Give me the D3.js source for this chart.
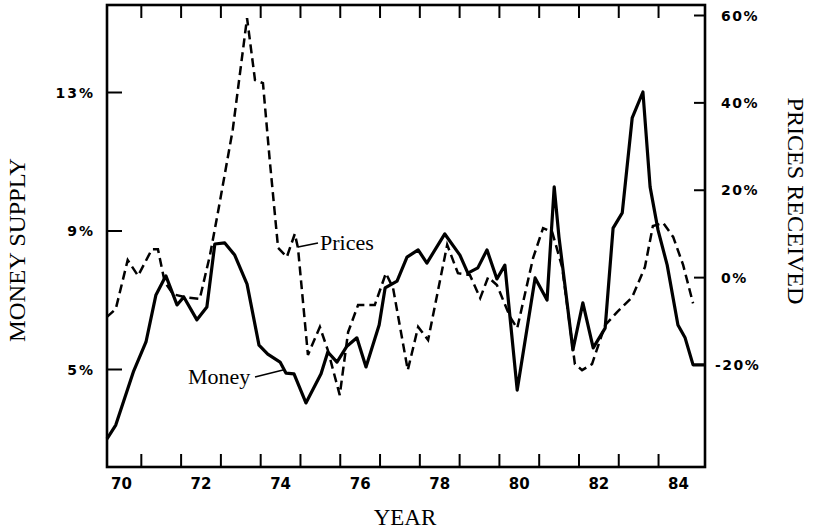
<!DOCTYPE html>
<html>
<head>
<meta charset="utf-8">
<script src="https://cdn.jsdelivr.net/npm/d3@7"></script>
<style>
  html, body { margin: 0; padding: 0; background: #fff; }
  svg { display: block; }
  .tick text { fill: #000; }
</style>
</head>
<body>
<svg id="chart" width="813" height="532"></svg>
<script>
// ---- Data ----
const moneyDates = [1970.15, 1970.37, 1970.82, 1971.13, 1971.38, 1971.63, 1971.91, 1972.08, 1972.41, 1972.66,
  1972.86, 1973.11, 1973.36, 1973.67, 1973.97, 1974.19, 1974.50, 1974.65, 1974.85, 1975.15,
  1975.53, 1975.70, 1975.93, 1976.18, 1976.43, 1976.66, 1976.99, 1977.14, 1977.44, 1977.69,
  1977.97, 1978.19, 1978.64, 1979.02, 1979.22, 1979.47, 1979.70, 1979.95, 1980.15, 1980.46,
  1980.91, 1981.21, 1981.39, 1981.51, 1981.86, 1982.11, 1982.37, 1982.67, 1982.87, 1983.10,
  1983.35, 1983.62, 1983.80, 1984.00, 1984.23, 1984.50, 1984.68, 1984.88, 1985.18];
const moneyValues = [2.98, 3.38, 4.94, 5.78, 7.14, 7.69, 6.85, 7.08, 6.42, 6.79,
  8.61, 8.64, 8.29, 7.45, 5.69, 5.43, 5.20, 4.88, 4.86, 4.02,
  4.86, 5.49, 5.20, 5.66, 5.90, 5.06, 6.27, 7.34, 7.54, 8.23,
  8.44, 8.06, 8.90, 8.29, 7.77, 7.92, 8.44, 7.60, 8.00, 4.39,
  7.63, 6.99, 10.26, 8.81, 5.55, 6.91, 5.61, 6.18, 9.07, 9.51,
  12.25, 13.00, 10.26, 9.01, 8.00, 6.27, 5.90, 5.12, 5.12];

const priceDates = [1970.15, 1970.37, 1970.67, 1970.93, 1971.28, 1971.43, 1971.60, 1971.81, 1972.11, 1972.48,
  1972.74, 1972.94, 1973.31, 1973.67, 1973.87, 1974.07, 1974.24, 1974.45, 1974.67, 1974.87,
  1974.95, 1975.20, 1975.50, 1975.70, 1976.00, 1976.21, 1976.46, 1976.88, 1977.16, 1977.34,
  1977.71, 1977.97, 1978.22, 1978.70, 1978.97, 1979.27, 1979.53, 1979.73, 1979.95, 1980.28,
  1980.46, 1980.86, 1981.11, 1981.34, 1981.59, 1981.91, 1982.09, 1982.34, 1982.67, 1982.97,
  1983.35, 1983.67, 1983.87, 1984.13, 1984.38, 1984.63, 1984.88];
const priceValues = [-9.1, -7.3, 3.9, 0.3, 6.4, 6.4, -1.1, -3.9, -4.6, -5.0,
  5.1, 14.9, 33.7, 59.3, 45.1, 44.4, 26.8, 6.7, 4.6, 9.9,
  6.7, -17.8, -11.4, -16.7, -27.0, -12.6, -6.4, -6.4, 0.9, -2.5,
  -21.3, -11.4, -14.4, 7.4, 0.9, 0.5, -4.8, 0.0, -1.8, -9.1,
  -11.7, 4.4, 11.2, 10.3, 2.3, -19.9, -21.3, -19.9, -11.0, -8.0,
  -4.6, 2.3, 11.7, 12.4, 9.2, 2.8, -6.0];

const yearTicks = [1971, 1972, 1973, 1974, 1975, 1976, 1977, 1978, 1979, 1980, 1981, 1982, 1983, 1984];
const yearLabels = [1970, 1972, 1974, 1976, 1978, 1980, 1982, 1984];
const moneyTicks = [5, 9, 13];
const priceTicks = [-20, 0, 20, 40, 60];

// ---- Layout ----
const svg = d3.select("#chart");
const L = 107, R = 705, T = 5, B = 467;

const x = d3.scaleLinear().domain([1970.15, 1985.18]).range([L, R]);
const yM = d3.scaleLinear().domain([5, 13]).range([369, 92]);
const yP = d3.scaleLinear().domain([-20, 60]).range([364.5, 15]);

const tickFont = "'DejaVu Sans', sans-serif";
const serif = "'Liberation Serif', 'Times New Roman', serif";

// Bottom ticks (inward)
const gB = svg.append("g").attr("transform", `translate(0,${B})`)
  .call(d3.axisBottom(x).tickValues(yearTicks).tickSize(-13).tickFormat(""));
// Top ticks (inward)
const gT = svg.append("g").attr("transform", `translate(0,${T})`)
  .call(d3.axisTop(x).tickValues(yearTicks).tickSize(-13).tickFormat(""));
// Bottom labels, centred on each year
const gBL = svg.append("g").attr("transform", `translate(0,${B})`)
  .call(d3.axisBottom(x).tickValues(yearLabels.map(d => d + 0.5)).tickSize(0).tickPadding(11)
    .tickFormat(d => String(Math.floor(d)).slice(2)));
gBL.selectAll("text").attr("font-family", tickFont).attr("font-weight", "bold").attr("font-size", 15);

// Left axis
const gL = svg.append("g").attr("transform", `translate(${L},0)`)
  .call(d3.axisLeft(yM).tickValues(moneyTicks).tickSize(-15).tickPadding(12).tickFormat(d => d + "%"));
gL.selectAll("text").attr("font-family", tickFont).attr("font-weight", "bold").attr("font-size", 14)
  .attr("letter-spacing", 2).attr("dy", "0.36em");

// Right axis
const gR = svg.append("g").attr("transform", `translate(${R},0)`)
  .call(d3.axisRight(yP).tickValues(priceTicks).tickSize(-11).tickPadding(16).tickFormat(d => d + "%"));
gR.selectAll("text").attr("font-family", tickFont).attr("font-weight", "bold").attr("font-size", 14)
  .attr("letter-spacing", 1.5).attr("dy", "0.36em")
  .attr("dx", d => d < 0 ? -6 : 0);

[gB, gT, gBL, gL, gR].forEach(g => {
  g.select(".domain").remove();
  g.selectAll("line").attr("stroke", "#000").attr("stroke-width", 2);
});

// Frame
svg.append("rect").attr("x", L).attr("y", T).attr("width", R - L).attr("height", B - T)
  .attr("fill", "none").attr("stroke", "#000").attr("stroke-width", 2.6);

// Lines
const moneyData = moneyDates.map((d, i) => [d, moneyValues[i]]);
const priceData = priceDates.map((d, i) => [d, priceValues[i]]);

svg.append("path").datum(priceData)
  .attr("fill", "none").attr("stroke", "#000").attr("stroke-width", 2.5)
  .attr("stroke-dasharray", "9,5")
  .attr("d", d3.line().x(d => x(d[0])).y(d => yP(d[1])));

svg.append("path").datum(moneyData)
  .attr("fill", "none").attr("stroke", "#000").attr("stroke-width", 3.2)
  .attr("stroke-linejoin", "round")
  .attr("d", d3.line().x(d => x(d[0])).y(d => yM(d[1])));

// Annotations
svg.append("text").attr("x", 320).attr("y", 250).attr("font-family", serif).attr("font-size", 22)
  .text("Prices");
svg.append("line").attr("x1", 298).attr("y1", 247).attr("x2", 318).attr("y2", 243)
  .attr("stroke", "#000").attr("stroke-width", 1.6);
svg.append("text").attr("x", 188).attr("y", 384).attr("font-family", serif).attr("font-size", 22)
  .text("Money");
svg.append("line").attr("x1", 255).attr("y1", 377).attr("x2", 283).attr("y2", 370)
  .attr("stroke", "#000").attr("stroke-width", 1.6);

// Axis titles
svg.append("text").attr("transform", "translate(25,250) rotate(-90)")
  .attr("text-anchor", "middle").attr("font-family", serif).attr("font-size", 23)
  .attr("textLength", 184).attr("lengthAdjust", "spacingAndGlyphs")
  .text("MONEY SUPPLY");
svg.append("text").attr("transform", "translate(788,201) rotate(90)")
  .attr("text-anchor", "middle").attr("font-family", serif).attr("font-size", 23)
  .attr("textLength", 207).attr("lengthAdjust", "spacingAndGlyphs")
  .text("PRICES RECEIVED");
svg.append("text").attr("x", 405).attr("y", 525)
  .attr("text-anchor", "middle").attr("font-family", serif).attr("font-size", 23)
  .text("YEAR");
</script>
</body>
</html>
